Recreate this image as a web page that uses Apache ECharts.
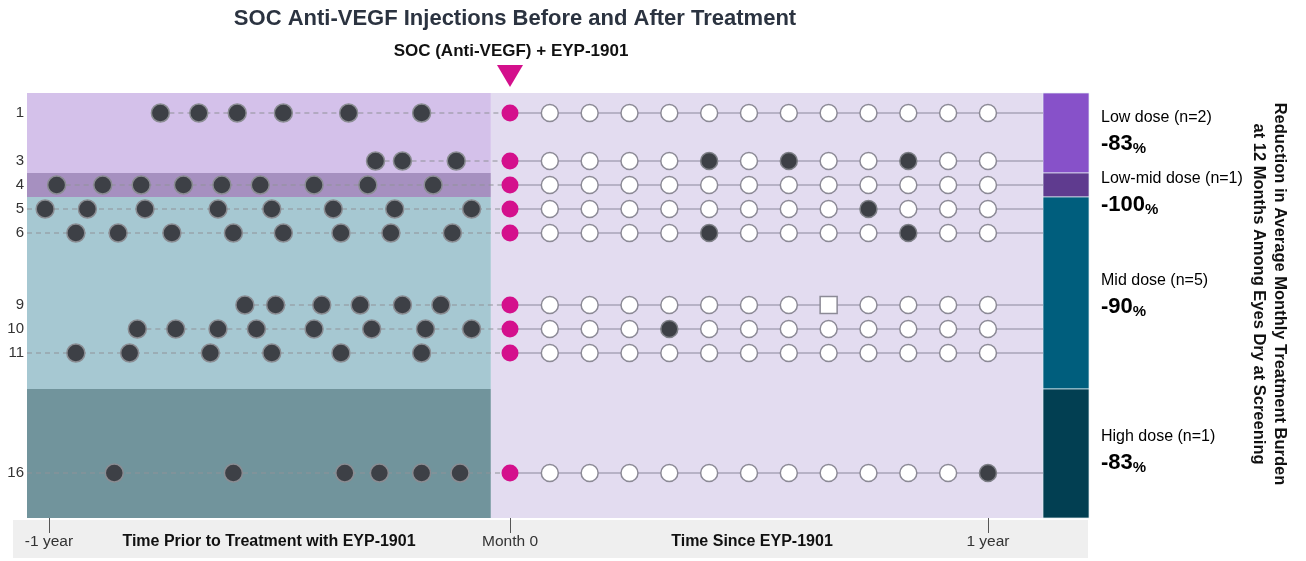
<!DOCTYPE html>
<html>
<head>
<meta charset="utf-8">
<script src="https://cdn.jsdelivr.net/npm/echarts@6/dist/echarts.min.js"></script>
<style>html,body{margin:0;padding:0;background:#fff}#main{width:1306px;height:561px}</style>
</head>
<body>
<div id="main"></div>
<script>
// patient rows (eye ids shown on the y axis)
var rows = [1, 3, 4, 5, 6, 9, 10, 11, 16];

// SOC injections before EYP-1901, months before month 0 (one list per row)
var preShots = [
    [-9.1, -8.1, -7.1, -5.9, -4.2, -2.3],
    [-3.5, -2.8, -1.4],
    [-11.8, -10.6, -9.6, -8.5, -7.5, -6.5, -5.1, -3.7, -2.0],
    [-12.1, -11.0, -9.5, -7.6, -6.2, -4.6, -3.0, -1.0],
    [-11.3, -10.2, -8.8, -7.2, -5.9, -4.4, -3.1, -1.5],
    [-6.9, -6.1, -4.9, -3.9, -2.8, -1.8],
    [-9.7, -8.7, -7.6, -6.6, -5.1, -3.6, -2.2, -1.0],
    [-11.3, -9.9, -7.8, -6.2, -4.4, -2.3],
    [-10.3, -7.2, -4.3, -3.4, -2.3, -1.3]
];
// rows whose history line runs in from the left edge
var historyFromEdge = [5, 6, 11, 16];

// monthly visits after EYP-1901
var visits = [1, 2, 3, 4, 5, 6, 7, 8, 9, 10, 11, 12];
var postShots = [[], [5, 7, 10], [], [9], [5, 10], [], [4], [], [12]];
var postMissed = [[], [], [], [], [], [8], [], [], []];

// dose groups
var groupNames = ['Low dose (n=2)', 'Low-mid dose (n=1)', 'Mid dose (n=5)', 'High dose (n=1)'];
var groupReduction = [-83, -100, -90, -83];
var groupEdges = [3.5, 4.5, 12.5];

var leftShade = ['#d4c1ea', '#a690c0', '#a6c8d2', '#71949c'];
var barColors = ['#8751c9', '#5f3b8f', '#005e7d', '#023f52'];
var pctColors = ['#9a6fd2', '#5b3596', '#0e6689', '#0b485c'];

// axis ranges so that both halves line up with the drawing
var yMin = 1 - 20 / 24, yMax = 16 + 45 / 24;
var preMin = (27 - 510) / 38.42, preMax = (1043 - 510) / 38.42;
var postMin = (27 - 510) / 39.83, postMax = (1043 - 510) / 39.83;
var split = -0.48;

var myChart = echarts.init(document.getElementById('main'));
var font = 'Liberation Sans, Arial, sans-serif';

var bands = [yMin].concat(groupEdges, [yMax]);
var bgAreas = [];
var barAreas = [];
for (var g = 0; g < groupNames.length; g++) {
    bgAreas.push([
        {xAxis: postMin, yAxis: bands[g], itemStyle: {color: leftShade[g], opacity: 1}},
        {xAxis: split, yAxis: bands[g + 1]}
    ]);
    barAreas.push([
        {yAxis: bands[g], itemStyle: {color: barColors[g], opacity: 1}},
        {yAxis: bands[g + 1]}
    ]);
}
bgAreas.push([
    {xAxis: split, yAxis: yMin, itemStyle: {color: '#e3dcf0', opacity: 1}},
    {xAxis: postMax, yAxis: yMax}
]);

var series = [];
series.push({
    type: 'line', xAxisIndex: 1, yAxisIndex: 0, data: [], silent: true, z: 0,
    markArea: {silent: true, data: bgAreas}
});
series.push({
    type: 'line', xAxisIndex: 2, yAxisIndex: 1, data: [], silent: true,
    markArea: {silent: true, itemStyle: {borderColor: 'rgba(230,240,245,0.7)', borderWidth: 1}, data: barAreas}
});

var preDots = [], magenta = [], openDots = [], darkDots = [], squares = [];
rows.forEach(function (r, i) {
    var pts = preShots[i].map(function (m) { return [m, r]; });
    pts.forEach(function (p) { preDots.push(p); });
    var start = historyFromEdge.indexOf(r) >= 0 ? [[preMin, r]] : [];
    series.push({
        type: 'line', xAxisIndex: 0, yAxisIndex: 0, showSymbol: false, silent: true, z: 1,
        lineStyle: {color: '#8f9198', width: 1.2, type: [5, 4]},
        data: start.concat(pts, [[0, r]])
    });
    series.push({
        type: 'line', xAxisIndex: 1, yAxisIndex: 0, showSymbol: false, silent: true, z: 1,
        lineStyle: {color: '#a9a5b8', width: 1.5},
        data: [[0, r], [postMax, r]]
    });
    magenta.push([0, r]);
    visits.forEach(function (m) {
        if (postShots[i].indexOf(m) >= 0) darkDots.push([m, r]);
        else if (postMissed[i].indexOf(m) >= 0) squares.push([m, r]);
        else openDots.push([m, r]);
    });
});

series.push({
    type: 'scatter', xAxisIndex: 0, yAxisIndex: 0, symbolSize: 18, z: 3, data: preDots,
    itemStyle: {color: '#3d4046', borderColor: '#8a8c92', borderWidth: 1.5, opacity: 1}
});
series.push({
    type: 'scatter', xAxisIndex: 1, yAxisIndex: 0, symbolSize: 17, z: 3, data: magenta,
    itemStyle: {color: '#d4108c', opacity: 1}
});
series.push({
    type: 'scatter', xAxisIndex: 1, yAxisIndex: 0, symbolSize: 17, z: 3, data: openDots,
    itemStyle: {color: '#ffffff', borderColor: '#8c8a96', borderWidth: 1.5, opacity: 1}
});
series.push({
    type: 'scatter', xAxisIndex: 1, yAxisIndex: 0, symbolSize: 17, z: 3, data: darkDots,
    itemStyle: {color: '#3d4046', borderColor: '#7d7f86', borderWidth: 1.5, opacity: 1}
});
series.push({
    type: 'scatter', xAxisIndex: 1, yAxisIndex: 0, symbol: 'rect', symbolSize: 17, z: 3, data: squares,
    itemStyle: {color: '#ffffff', borderColor: '#8c8a96', borderWidth: 1.5, opacity: 1}
});

function tickName(v) {
    if (v === 0) return 'Month 0';
    return v < 0 ? '-1 year' : '1 year';
}

var groupText = [];
var labelTops = [110, 171, 273, 429];
for (var k = 0; k < groupNames.length; k++) {
    groupText.push({
        type: 'text', left: 1101, top: labelTops[k],
        style: {
            text: '{n|' + groupNames[k] + '}\n{p|' + groupReduction[k] + '}{s|%}',
            rich: {
                n: {fontFamily: font, fontSize: 16, color: '#222', lineHeight: 25},
                p: {fontFamily: font, fontSize: 22, fontWeight: 'bold', color: pctColors[k], lineHeight: 26},
                s: {fontFamily: font, fontSize: 15, fontWeight: 'bold', color: pctColors[k], lineHeight: 26, verticalAlign: 'bottom'}
            }
        }
    });
}

var option = {
    backgroundColor: '#ffffff',
    animation: false,
    grid: [
        {left: 27, right: 263, top: 93, bottom: 43},
        {left: 1043, right: 217, top: 93, bottom: 43}
    ],
    xAxis: [
        {
            type: 'value', gridIndex: 0, min: preMin, max: preMax, position: 'bottom',
            axisLine: {show: false}, splitLine: {show: false},
            axisTick: {show: true, customValues: [-12, 0], length: 15, lineStyle: {color: '#555', width: 1}},
            axisLabel: {
                show: true, customValues: [-12, 0], margin: 16, fontFamily: font, fontSize: 15.5,
                formatter: tickName,
                color: function (v) { return v === 0 ? '#777' : '#333'; }
            }
        },
        {
            type: 'value', gridIndex: 0, min: postMin, max: postMax, position: 'bottom',
            axisLine: {show: false}, splitLine: {show: false},
            axisTick: {show: true, customValues: [12], length: 15, lineStyle: {color: '#555', width: 1}},
            axisLabel: {
                show: true, customValues: [12], margin: 16, fontFamily: font, fontSize: 15.5,
                formatter: tickName, color: '#333'
            }
        },
        {type: 'value', gridIndex: 1, min: 0, max: 1, show: false}
    ],
    yAxis: [
        {
            type: 'value', gridIndex: 0, min: yMin, max: yMax, inverse: true,
            axisLine: {show: false}, axisTick: {show: false}, splitLine: {show: false},
            axisLabel: {customValues: rows, margin: 3, fontFamily: font, fontSize: 15, color: '#333'}
        },
        {type: 'value', gridIndex: 1, min: yMin, max: yMax, inverse: true, show: false}
    ],
    graphic: [
        {type: 'rect', z: -5, shape: {x: 13, y: 520, width: 1075, height: 38}, style: {fill: '#efefef'}},
        {type: 'text', x: 515, y: 19, style: {
            text: 'SOC Anti-VEGF Injections Before and After Treatment', align: 'center', verticalAlign: 'middle',
            fontFamily: font, fontSize: 22, fontWeight: 'bold', fill: '#2b3340'}},
        {type: 'text', x: 511, y: 51, style: {
            text: 'SOC (Anti-VEGF) + EYP-1901', align: 'center', verticalAlign: 'middle',
            fontFamily: font, fontSize: 17, fontWeight: 'bold', fill: '#111'}},
        {type: 'polygon', shape: {points: [[497, 65], [523, 65], [510, 87]]}, style: {fill: '#d4108c'}},
        {type: 'text', x: 269, y: 542, z: 5, style: {
            text: 'Time Prior to Treatment with EYP-1901', align: 'center', verticalAlign: 'middle',
            fontFamily: font, fontSize: 16, fontWeight: 'bold', fill: '#111'}},
        {type: 'text', x: 752, y: 542, z: 5, style: {
            text: 'Time Since EYP-1901', align: 'center', verticalAlign: 'middle',
            fontFamily: font, fontSize: 16, fontWeight: 'bold', fill: '#111'}},
        {type: 'text', x: 1269, y: 294, rotation: -Math.PI / 2, style: {
            text: 'Reduction in Average Monthly Treatment Burden\nat 12 Months Among Eyes Dry at Screening',
            align: 'center', verticalAlign: 'middle', lineHeight: 21,
            fontFamily: font, fontSize: 16.5, fontWeight: 'bold', fill: '#111'}}
    ].concat(groupText),
    series: series
};

myChart.setOption(option);
</script>
</body>
</html>
